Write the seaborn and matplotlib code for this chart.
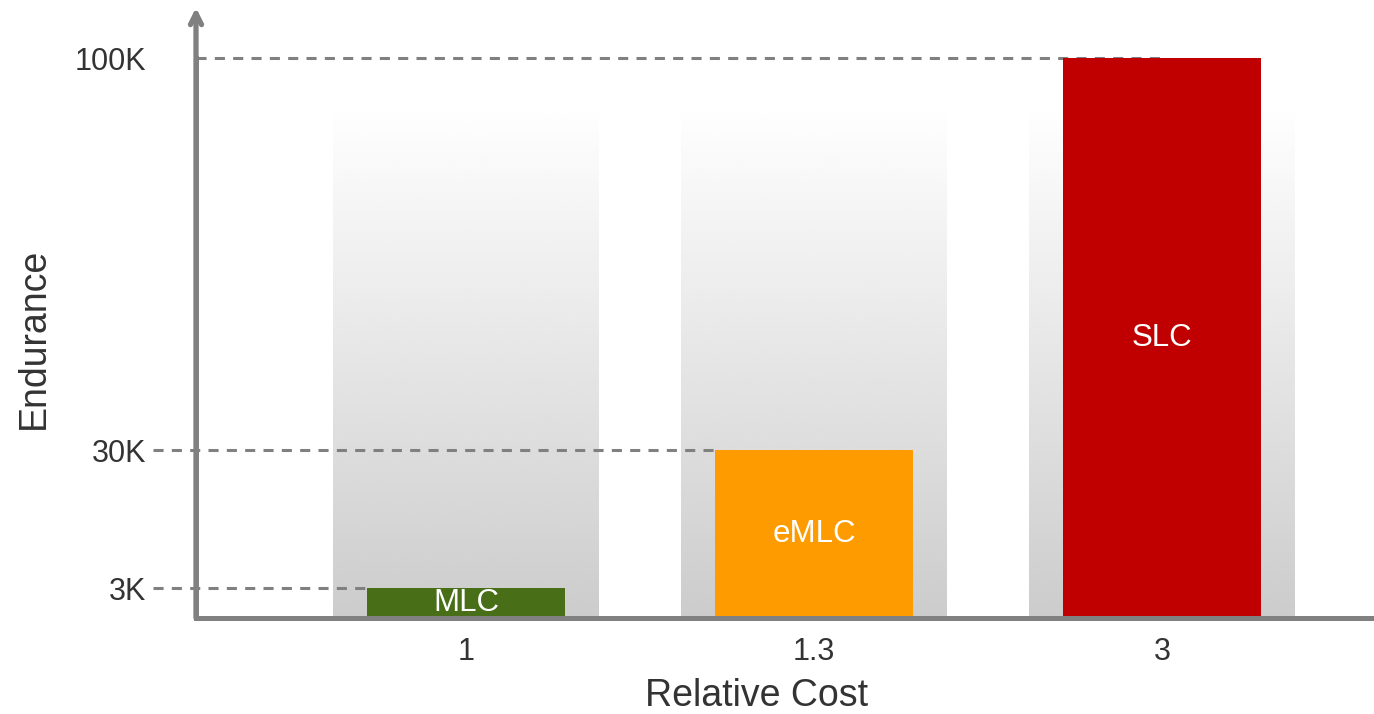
import numpy as np
import matplotlib
matplotlib.use("Agg")
import matplotlib.pyplot as plt
from matplotlib.ticker import NullLocator
import seaborn as sns

# datos del gráfico
tipos = ["MLC", "eMLC", "SLC"]
costo_relativo = ["1", "1.3", "3"]
resistencia = [3000, 30000, 100000]
colores = ["#486e17", "#fe9b00", "#c00000"]
ticks_y = [3000, 30000, 100000]
etiquetas_y = ["3K", "30K", "100K"]

# escala esquemática del eje y (valor -> altura en px)
escala_valores = [0, 3000, 30000, 100000]
escala_px = [0, 30, 168, 560]


def fwd(v):
    return np.interp(v, escala_valores, escala_px)


def inv(p):
    return np.interp(p, escala_px, escala_valores)


sns.set_style("white")
plt.rcParams["font.family"] = ["Liberation Sans", "DejaVu Sans"]

gris = "#808080"
texto = "#333333"
ancho = 0.57
xlim = (-0.776, 2.609)
rect = [196 / 1374, 96 / 714, 1178 / 1374, 560 / 714]

fig = plt.figure(figsize=(13.74, 7.14), dpi=100)

# fondos con degradado
ax_bg = fig.add_axes(rect, zorder=0)
grad = np.linspace(1.0, 0.80, 256)[:, None]
for i in range(len(tipos)):
    ax_bg.imshow(grad, cmap="gray", vmin=0, vmax=1, aspect="auto",
                 extent=[i - 0.382, i + 0.382, 0, 0.916], interpolation="bicubic")
ax_bg.set_xlim(*xlim)
ax_bg.set_ylim(0, 1)
ax_bg.axis("off")

ax = fig.add_axes(rect, zorder=1)
ax.patch.set_alpha(0)

sns.barplot(x=costo_relativo, y=resistencia, hue=tipos, palette=colores,
            dodge=False, width=ancho, saturation=1, legend=False,
            linewidth=0, ax=ax)

ax.set_yscale("function", functions=(fwd, inv))
ax.set_ylim(0, 100000)
ax.set_xlim(*xlim)
ax.set_yticks(ticks_y, etiquetas_y)
ax.yaxis.set_minor_locator(NullLocator())

# líneas guía punteadas
inicio = [-0.90, -0.90, xlim[0]]
fin = [0 - ancho / 2, 1 - ancho / 2, 2]
for i, v in enumerate(resistencia):
    ax.plot([inicio[i], fin[i]], [v, v], color=gris, lw=2.2, dashes=(3.3, 2.7),
            zorder=0.5, clip_on=False)

# etiquetas dentro de las barras
for i, (t, v) in enumerate(zip(tipos, resistencia)):
    ax.text(i, inv(fwd(v) / 2), t, color="white", fontsize=22.5,
            ha="center", va="center")

for lado in ["top", "right"]:
    ax.spines[lado].set_visible(False)
for lado in ["left", "bottom"]:
    ax.spines[lado].set_color(gris)
    ax.spines[lado].set_linewidth(3.6)

ax.annotate("", xy=(0, 1.09), xytext=(0, 0), xycoords="axes fraction",
            arrowprops=dict(arrowstyle="->", lw=3.8, color=gris, mutation_scale=20,
                            shrinkA=0, shrinkB=0, capstyle="round", joinstyle="round"),
            annotation_clip=False)

ax.tick_params(axis="x", length=0, pad=14, labelsize=22, labelcolor=texto)
ax.tick_params(axis="y", length=0, pad=36, labelsize=22, labelcolor=texto)
ax.set_xlabel("Relative Cost", fontsize=27, color=texto)
ax.xaxis.set_label_coords(0.476, -0.108)
ax.set_ylabel("Endurance", fontsize=27, color=texto, labelpad=16)

fig.savefig("out.png", dpi=100)
plt.close(fig)
